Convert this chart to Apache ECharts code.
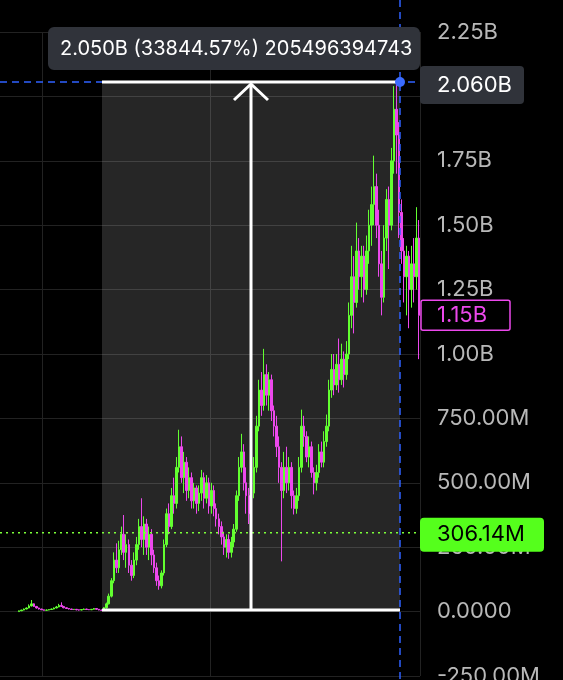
<!DOCTYPE html>
<html>
<head>
<meta charset="utf-8">
<script src="https://cdn.jsdelivr.net/npm/echarts@6/dist/echarts.min.js"></script>
<style>
html,body{margin:0;padding:0;background:#000;}
#c{width:563px;height:680px;}
</style>
</head>
<body>
<div id="c"></div>
<script>
// Values in millions: [open, close, low, high]
const leadingEmpty = 7;
const preRally = [
 [0,3,0,4],[3,6,2,7],[6,10,5,12],[10,14,9,16],[14,22,13,28],[22,30,20,45],[30,20,18,32],
 [20,14,12,22],[14,10,8,15],[10,7,6,11],[7,5,4,8],[5,6,4,8],[6,8,5,9],[8,10,7,12],
 [10,14,9,16],[14,18,13,22],[18,24,17,30],[24,20,18,36],[20,15,13,22],[15,12,10,16],
 [12,10,8,13],[10,8,7,11],[8,9,6,10],[9,7,5,10],[7,6,4,8],[6,8,5,9],[8,10,7,12],
 [10,8,7,11],[8,7,6,9],[7,9,6,10],[9,12,8,14],[12,9,8,13],[9,6,5,10],[6,5,3,7]
];
const firstWave = [
 [5,15,3,18],[15,30,12,35],[30,60,28,70],[60,120,55,130],[120,200,110,230],[200,170,150,265],
 [170,240,150,275],[240,300,220,330],[300,230,200,375],[230,260,170,300],[260,180,150,280],
 [180,140,120,200],[140,200,130,230],[200,260,180,290],[260,330,240,360],[330,280,250,440],
 [280,340,220,370],[340,250,220,360],[250,300,200,330],[300,220,180,320],[220,170,150,240],
 [170,120,100,190],[120,100,85,140],[100,150,90,160],[150,260,140,280],[260,380,250,400],
 [380,330,300,420],[330,450,320,480],[450,420,380,520],[420,560,400,600],[560,640,540,706],
 [640,520,500,680],[520,580,460,620],[580,470,430,600],[470,520,440,560],[520,430,400,540],
 [430,480,400,500],[480,420,380,490],[420,460,390,490]
];
const secondWave = [
 [460,520,430,550],[520,440,400,540],[440,500,420,530],[500,410,380,520],[410,470,380,500],
 [470,400,370,490],[400,360,330,420],[360,330,300,380],[330,290,260,350],[290,250,220,310],
 [250,280,210,300],[280,230,205,300],[230,270,210,290],[270,320,250,340],[320,450,310,470],
 [450,560,430,600],[560,620,540,690],[620,500,470,650],[500,450,380,560],[450,380,340,480],
 [380,460,350,500],[460,560,440,600],[560,720,540,760],[720,860,700,900],[860,800,760,930],
 [800,920,780,1020],[920,840,800,960],[840,900,780,930],[900,780,740,920],[780,720,680,800],
 [720,640,600,760],[640,560,500,680],[560,470,195,580],[470,560,440,620],[560,500,460,640],
 [500,560,470,600],[560,450,400,580],[450,400,377,470],[400,450,380,480],[450,560,430,600],
 [560,720,540,784],[720,680,640,760],[680,600,580,700],[600,640,560,680],[640,540,520,660],
 [540,500,455,560],[500,540,470,570],[540,620,520,650],[620,580,560,660],[580,660,560,700],
 [660,720,640,765]
];
const thirdWave = [
 [720,860,700,900],[860,940,830,1000],[940,880,840,1000],[880,960,860,1000],[960,900,850,1060],
 [900,980,880,1040],[980,920,870,1010],[920,1000,900,1050],[1000,1150,980,1200],[1150,1300,1100,1420],
 [1300,1200,1080,1380],[1200,1400,1180,1510],[1400,1300,1250,1450],[1300,1380,1220,1420],[1380,1250,1200,1420],
 [1250,1400,1230,1460],[1400,1500,1350,1560],[1500,1580,1420,1650],[1580,1650,1500,1770],[1650,1500,1450,1700],
 [1500,1350,1300,1560],[1350,1220,1150,1400],[1220,1450,1200,1500],[1450,1600,1400,1640],[1600,1500,1330,1650],
 [1500,1750,1480,1800],[1750,1950,1700,2040],[1950,1850,1700,2060],[1850,1550,1450,1900],[1550,1400,1350,1600],
 [1400,1300,1200,1450],[1300,1380,1150,1420],[1380,1250,1100,1400],[1250,1350,1180,1420],[1350,1300,1200,1450],
 [1300,1450,1250,1570],[1450,1150,980,1520]
];
const yTicks = {min:-250, max:2250, step:250};
const measure = {startIdx:40, endIdx:159, low:6.06, high:2056};
const measureText = '2.050B (33844.57%) 205496394743';
const crossLabel = '2.060B';
const lastPrice = 1150, lastLabel = '1.15B';
const refPrice = 306.14, refLabel = '306.14M';

const candles = [];
for (let i = 0; i < leadingEmpty; i++) candles.push('-');
[preRally, firstWave, secondWave, thirdWave].forEach(a => a.forEach(d => candles.push(d)));
const categories = candles.map((d, i) => String(i));

function fmt(v){
  if (v === 0) return '0.0000';
  if (Math.abs(v) >= 1000) return (v/1000).toFixed(2) + 'B';
  return v.toFixed(2) + 'M';
}

const chart = echarts.init(document.getElementById('c'), null, {renderer:'canvas'});
const FONT = 'Inter';
const GREEN = '#62ff30', PINK = '#ec48ec';
chart.setOption({
  backgroundColor:'#000',
  animation:false,
  grid:{left:0, right:143, top:32, bottom:4, containLabel:false, outerBoundsMode:'none'},
  xAxis:{
    type:'category', data:categories, boundaryGap:true,
    axisLine:{show:false}, axisTick:{show:false}, axisLabel:{show:false},
    splitLine:{show:true, interval:(idx)=> idx===17 || idx===84, lineStyle:{color:'#222', width:1}}
  },
  yAxis:{
    type:'value', position:'right', min:yTicks.min, max:yTicks.max, interval:yTicks.step,
    axisLine:{show:false}, axisTick:{show:false},
    axisLabel:{margin:17, color:'#b8b8b8', fontSize:22, fontFamily:FONT, formatter:fmt},
    splitLine:{lineStyle:{color:'#222', width:1}}
  },
  series:[{
    type:'candlestick', data:candles, barWidth:2, z:5,
    itemStyle:{color:GREEN, color0:PINK, borderColor:GREEN, borderColor0:PINK, borderWidth:1}
  }]
});

function draw(){
  const p = (i, v) => chart.convertToPixel({gridIndex:0}, [i, v]);
  const half = 1.25;
  const x0 = p(measure.startIdx, 0)[0] + half*0.6;
  const x1 = p(measure.endIdx, 0)[0] + half;
  const yTop = p(0, measure.high)[1];
  const yBot = p(0, measure.low)[1];
  const gridRight = p(categories.length-1, 0)[0] + half;
  const xm = (x0 + x1) / 2;
  const yLast = p(0, lastPrice)[1];
  const yRef = p(0, refPrice)[1];
  const labelX = gridRight + 17;
  const g = [];
  g.push({type:'rect', z:1, shape:{x:x0, y:yTop, width:x1-x0, height:yBot-yTop}, style:{fill:'rgba(255,255,255,0.15)'}});
  g.push({type:'line', z:50, shape:{x1:0, y1:yRef, x2:gridRight, y2:yRef}, style:{stroke:'#7dff3a', lineWidth:1.5, lineDash:[2,4]}});
  g.push({type:'line', z:60, shape:{x1:0, y1:yTop, x2:gridRight+10, y2:yTop}, style:{stroke:'#2f62ff', lineWidth:1.5, lineDash:[7,5]}});
  g.push({type:'line', z:60, shape:{x1:x1, y1:0, x2:x1, y2:680}, style:{stroke:'#2f62ff', lineWidth:1.5, lineDash:[7,5]}});
  g.push({type:'line', z:70, shape:{x1:x0, y1:yTop, x2:x1, y2:yTop}, style:{stroke:'#fff', lineWidth:3}});
  g.push({type:'line', z:70, shape:{x1:x0, y1:yBot, x2:x1, y2:yBot}, style:{stroke:'#fff', lineWidth:3}});
  g.push({type:'line', z:70, shape:{x1:xm, y1:yBot, x2:xm, y2:yTop+3}, style:{stroke:'#fff', lineWidth:3}});
  g.push({type:'polyline', z:70, shape:{points:[[xm-17, yTop+18],[xm, yTop+2],[xm+17, yTop+18]]}, style:{stroke:'#fff', lineWidth:3, fill:null}});
  g.push({type:'circle', z:80, shape:{cx:x1, cy:yTop, r:5}, style:{fill:'#3a6bff'}});
  g.push({type:'rect', z:90, shape:{x:x0-54, y:yTop-55, width:gridRight-(x0-54), height:43, r:6}, style:{fill:'#30333a'}});
  g.push({type:'text', z:91, x:x0-42, y:yTop-33, style:{text:measureText, fill:'#fff', font:'20px '+FONT, verticalAlign:'middle', align:'left'}});
  g.push({type:'rect', z:90, shape:{x:gridRight, y:yTop-16, width:104, height:38, r:4}, style:{fill:'#30333a'}});
  g.push({type:'text', z:91, x:labelX, y:yTop+3, style:{text:crossLabel, fill:'#fff', font:'22px '+FONT, verticalAlign:'middle'}});
  g.push({type:'rect', z:90, shape:{x:gridRight+1, y:yLast-15, width:89, height:30, r:2}, style:{fill:'#000', stroke:PINK, lineWidth:1.5}});
  g.push({type:'text', z:91, x:labelX, y:yLast, style:{text:lastLabel, fill:PINK, font:'22px '+FONT, verticalAlign:'middle'}});
  g.push({type:'rect', z:90, shape:{x:gridRight, y:yRef-15, width:124, height:34, r:4}, style:{fill:'#55ff1c'}});
  g.push({type:'text', z:91, x:labelX, y:yRef+2, style:{text:refLabel, fill:'#000', font:'22px '+FONT, verticalAlign:'middle'}});
  chart.setOption({graphic:{elements:g}});
}
draw();
</script>
</body>
</html>
